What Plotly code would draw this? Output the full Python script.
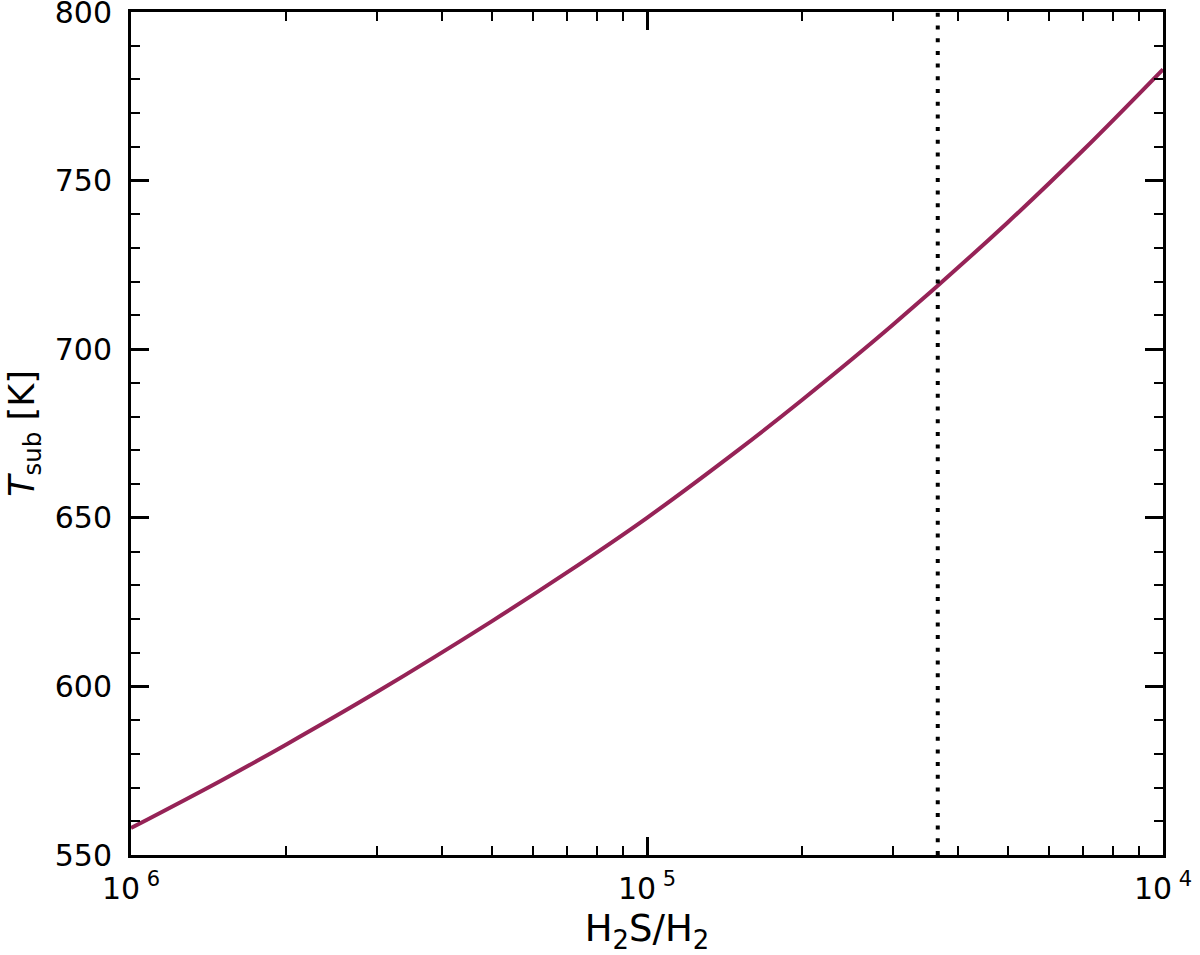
import plotly.graph_objects as go

# Data
ratio = [1.0e-6, 1.5e-6, 2.0e-6, 3.0e-6, 5.0e-6, 7.0e-6, 1.0e-5,
         1.5e-5, 2.0e-5, 3.0e-5, 5.0e-5, 7.0e-5, 1.0e-4]
t_sub = [558.0, 572.2, 582.8, 598.4, 619.3, 633.8, 650.0,
         670.0, 685.0, 707.3, 737.6, 759.0, 783.0]
vline_x = 3.66e-5
y_range = [550, 800]
x_tickvals = [1e-6, 1e-5, 1e-4]
x_ticktext = ["10<sup>\u00a06</sup>", "10<sup>\u00a05</sup>", "10<sup>\u00a04</sup>"]
x_minor = [m * 10.0 ** e for e in (-6, -5) for m in range(2, 10)]
y_tickvals = [550, 600, 650, 700, 750, 800]
y_minor = [v for v in range(550, 801, 10) if v % 50 != 0]

line_color = "#962357"
font_family = "DejaVu Sans"

fig = go.Figure()
fig.add_trace(go.Scatter(
    x=ratio, y=t_sub, mode="lines",
    line=dict(color=line_color, width=4, shape="spline"),
    showlegend=False))
fig.add_trace(go.Scatter(
    x=[vline_x, vline_x], y=y_range, mode="lines",
    line=dict(color="black", width=4, dash="4px,8.7px"),
    showlegend=False))

axis_common = dict(
    showline=True, linecolor="black", linewidth=3, mirror="ticks",
    ticks="inside", ticklen=18, tickwidth=2.5, tickcolor="black",
    showgrid=False, zeroline=False, automargin=False,
    ticklabeloverflow="allow",
    tickfont=dict(family=font_family, size=30, color="black"),
)

fig.update_xaxes(
    type="log", range=[-6, -4], tickmode="array",
    tickvals=x_tickvals, ticktext=x_ticktext,
    minor=dict(tickvals=x_minor, ticks="inside", ticklen=9,
               tickwidth=2, tickcolor="black", showgrid=False),
    title=dict(text="H<sub>2</sub>S/H<sub>2</sub>",
               font=dict(family=font_family, size=37, color="black"),
               standoff=14),
    ticklabelstandoff=5,
    **axis_common)
fig.update_yaxes(
    range=y_range, tickmode="array", tickvals=y_tickvals,
    minor=dict(tickvals=y_minor, ticks="inside", ticklen=9,
               tickwidth=2, tickcolor="black", showgrid=False),
    title=dict(text="<i>T</i><sub>sub</sub> [K]",
               font=dict(family=font_family, size=35, color="black"),
               standoff=10),
    ticklabelstandoff=10,
    **axis_common)

fig.update_layout(
    width=1200, height=955,
    margin=dict(l=131, r=37, t=12, b=100),
    plot_bgcolor="white", paper_bgcolor="white",
    font=dict(family=font_family, color="black"),
)

fig.write_html(
    "out.html",
    config={"displayModeBar": False},
    post_script="document.body.style.margin='0';document.body.style.overflow='hidden';",
)
